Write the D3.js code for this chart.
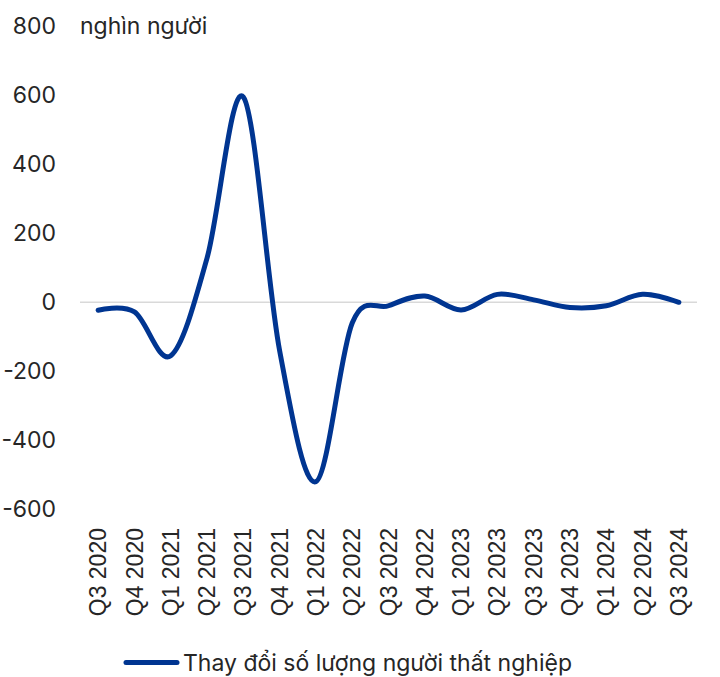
<!DOCTYPE html>
<html><head><meta charset="utf-8">
<script src="https://cdn.jsdelivr.net/npm/d3@7"></script>
<style>body{margin:0;background:#fff}</style>
</head><body>
<svg id="c" width="720" height="677"></svg>
<script>
const categories = ["Q3 2020","Q4 2020","Q1 2021","Q2 2021","Q3 2021","Q4 2021","Q1 2022","Q2 2022","Q3 2022","Q4 2022","Q1 2023","Q2 2023","Q3 2023","Q4 2023","Q1 2024","Q2 2024","Q3 2024"];
const values = [-23,-28,-155,128,595,-140,-520,-60,-10,18,-22,23,7,-15,-10,23,0];
const yTicks = [-600,-400,-200,0,200,400,600,800];
const unitLabel = "nghìn người";
const seriesName = "Thay đổi số lượng người thất nghiệp";

const svg = d3.select("#c");
const x = d3.scaleBand().domain(categories).range([80,697]);
const y = d3.scaleLinear().domain([-600,800]).range([509.3,26.3]);
const cx = d => x(d) + x.bandwidth()/2;

// zero gridline
svg.append("line").attr("x1",80).attr("x2",697).attr("y1",y(0)).attr("y2",y(0))
  .attr("stroke","#d9d9d9").attr("stroke-width",1.5);

// y axis labels
const yAxis = d3.axisLeft(y).tickValues(yTicks).tickSize(0).tickPadding(0).tickFormat(d => String(d));
const ga = svg.append("g").attr("transform","translate(56,0)").call(yAxis);
ga.select(".domain").remove();
ga.selectAll("text").attr("font-family","Inter, sans-serif").attr("font-size",23).attr("fill","#262626");

svg.append("text").attr("x",80).attr("y",y(800)).attr("dy","0.32em")
  .attr("font-family","Inter, sans-serif").attr("font-size",23).attr("fill","#262626").text(unitLabel);

// x axis labels
const xAxis = d3.axisBottom(x).tickSize(0).tickPadding(0);
const gx = svg.append("g").attr("transform","translate(0,528)").call(xAxis);
gx.select(".domain").remove();
gx.selectAll("text").attr("font-family","'Liberation Sans', Arial, sans-serif").attr("font-size",23).attr("fill","#262626")
  .attr("transform","rotate(-90)").attr("text-anchor","end").attr("x",0).attr("y",0).attr("dy","0.35em");

// line
const line = d3.line().x((d,i)=>cx(categories[i])).y(d=>y(d)).curve(d3.curveCardinal.tension(0));
svg.append("path").datum(values).attr("d",line).attr("fill","none")
  .attr("stroke","#003591").attr("stroke-width",5).attr("stroke-linecap","round").attr("stroke-linejoin","round");

// legend
svg.append("line").attr("x1",126).attr("x2",177).attr("y1",662.5).attr("y2",662.5)
  .attr("stroke","#003591").attr("stroke-width",5).attr("stroke-linecap","round");
svg.append("text").attr("x",183).attr("y",662.5).attr("dy","0.35em")
  .attr("font-family","Inter, sans-serif").attr("font-size",23).attr("fill","#262626").text(seriesName);
</script>
</body></html>
